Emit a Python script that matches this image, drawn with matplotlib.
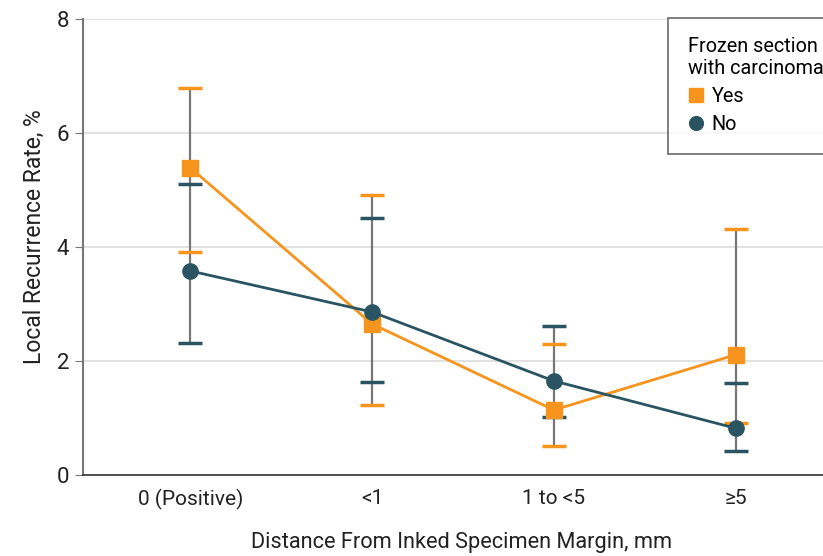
import numpy as np
import matplotlib
matplotlib.use("Agg")
import matplotlib.pyplot as plt

plt.rcParams["font.family"] = ["Roboto", "DejaVu Sans"]

categories = ["0 (Positive)", "<1", "1 to <5", "≥5"]
yes_rate = [5.39, 2.65, 1.14, 2.11]
yes_lo = [3.91, 1.23, 0.51, 0.91]
yes_hi = [6.79, 4.91, 2.30, 4.32]
no_rate = [3.58, 2.86, 1.65, 0.82]
no_lo = [2.32, 1.63, 1.02, 0.42]
no_hi = [5.10, 4.51, 2.61, 1.61]

ORANGE = "#F7941D"
TEAL = "#2B5462"
GRAY = "#777777"
TXT = "#222222"

fig = plt.figure(figsize=(8.23, 5.56), dpi=100)
ax = fig.add_axes([83 / 823, 1 - 475 / 556, 1 - 83 / 823, (475 - 19) / 556])

x = np.arange(len(categories))

# vertical whiskers (gray), spanning both series
for i in x:
    lo = min(yes_lo[i], no_lo[i]); hi = max(yes_hi[i], no_hi[i])
    ax.plot([i, i], [lo, hi], color=GRAY, lw=1.6, zorder=2)

cw = 0.065
for lo, hi, col in [(yes_lo, yes_hi, ORANGE), (no_lo, no_hi, TEAL)]:
    ax.hlines(lo, x - cw, x + cw, color=col, lw=2.5, zorder=3)
    ax.hlines(hi, x - cw, x + cw, color=col, lw=2.5, zorder=3)

ax.plot(x, yes_rate, color=ORANGE, lw=2, marker="s", ms=11, zorder=4, label="Yes")
ax.plot(x, no_rate, color=TEAL, lw=2, marker="o", ms=11, zorder=5, label="No")

ax.set_xlim(-0.59, 3.48)
ax.set_ylim(0, 8)
ax.set_yticks([0, 2, 4, 6, 8])
ax.set_xticks(x)
ax.set_xticklabels(categories)
ax.tick_params(axis="y", length=6, color=GRAY, labelsize=16, pad=4, labelcolor=TXT)
ax.tick_params(axis="x", length=0, labelsize=15, pad=10, labelcolor=TXT)
ax.yaxis.grid(True, color="#DDDDDD", lw=1.2)
ax.set_axisbelow(True)
for s in ("top", "right"):
    ax.spines[s].set_visible(False)
ax.spines["left"].set_color(GRAY)
ax.spines["left"].set_linewidth(1.5)
ax.spines["bottom"].set_color("#333333")
ax.spines["bottom"].set_linewidth(1.2)

ax.set_xlabel("Distance From Inked Specimen Margin, mm", fontsize=15.7, color=TXT)
ax.set_ylabel("Local Recurrence Rate, %", fontsize=16.5, color=TXT)
ax.xaxis.set_label_coords(0.512, -0.125)
ax.yaxis.set_label_coords(-0.050, 0.522)

leg = ax.legend(title="Frozen section\nwith carcinoma", loc="upper left",
                bbox_to_anchor=((668 - 83) / (823 - 83), 1.003), fontsize=14.3, title_fontsize=14.3,
                frameon=True, fancybox=False, edgecolor="#444444", handlelength=0.8,
                handletextpad=0.4, borderpad=1.0, labelspacing=0.45, borderaxespad=0,
                markerscale=0.9)
leg._legend_box.align = "left"
for h in leg.legend_handles:
    h.set_linestyle("none")
leg.get_frame().set_linewidth(1.2)

fig.savefig("out.png", dpi=100)
